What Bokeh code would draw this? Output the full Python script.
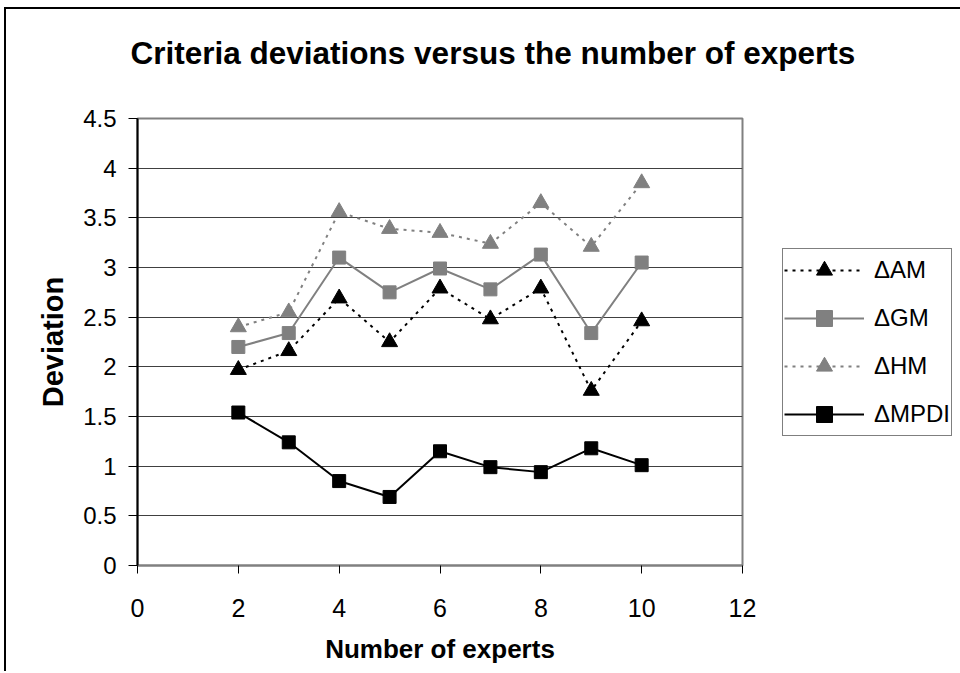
from bokeh.plotting import figure
from bokeh.models import Range1d, FixedTicker, Legend, LegendItem, Title
from bokeh.embed import file_html
from bokeh.resources import INLINE

experts = [2, 3, 4, 5, 6, 7, 8, 9, 10]
am = [1.97, 2.16, 2.69, 2.25, 2.79, 2.48, 2.79, 1.76, 2.46]
gm = [2.20, 2.34, 3.10, 2.75, 2.99, 2.78, 3.13, 2.34, 3.05]
hm = [2.40, 2.55, 3.56, 3.39, 3.35, 3.24, 3.65, 3.21, 3.85]
mpdi = [1.54, 1.24, 0.85, 0.69, 1.15, 0.99, 0.94, 1.18, 1.01]

x_ticks = [0, 2, 4, 6, 8, 10, 12]
y_ticks = [0, 0.5, 1, 1.5, 2, 2.5, 3, 3.5, 4, 4.5]
y_tick_labels = ["0", "0.5", "1", "1.5", "2", "2.5", "3", "3.5", "4", "4.5"]

FONT = "Liberation Sans"

p = figure(frame_width=605, frame_height=447, output_backend="svg", toolbar_location=None,
           title=None,
           x_range=Range1d(0, 12), y_range=Range1d(0, 4.5),
           min_border_left=131, min_border_right=216, min_border_top=109, min_border_bottom=106,
           styles={"border-left": "2px solid black", "border-top": "2px solid black",
                   "margin-left": "4px", "margin-top": "7px"})

# spacer between frame and title
p.add_layout(Title(text=" ", text_font_size="1px", standoff=45), "above")
p.add_layout(Title(text="Criteria deviations versus the number of experts", align="left",
                   offset=-7, standoff=0, text_font=FONT, text_font_size="31.5px",
                   text_font_style="bold", text_color="black"), "above")

p.outline_line_color = "#808080"
p.outline_line_width = 2
p.background_fill_color = "white"
p.border_fill_color = "white"

p.xgrid.visible = False
p.ygrid.ticker = FixedTicker(ticks=y_ticks)
p.ygrid.grid_line_color = "#404040"
p.ygrid.grid_line_width = 1

p.xaxis.ticker = FixedTicker(ticks=x_ticks)
p.yaxis.ticker = FixedTicker(ticks=y_ticks)
p.yaxis.major_label_overrides = {t: s for t, s in zip(y_ticks, y_tick_labels)}

for ax in (p.xaxis, p.yaxis):
    ax.major_label_text_font = FONT
    ax.major_label_text_color = "black"
    ax.axis_label_text_font = FONT
    ax.axis_label_text_font_style = "bold"
    ax.axis_label_text_color = "black"
    ax.minor_tick_line_color = None
    ax.major_tick_in = 0
    ax.major_tick_line_color = "black"

p.xaxis.major_label_text_font_size = "25px"
p.yaxis.major_label_text_font_size = "24px"
p.xaxis.axis_label_text_font_size = "26px"
p.yaxis.axis_label_text_font_size = "29px"

p.xaxis.axis_label = "Number of experts"
p.yaxis.axis_label = "Deviation"
p.xaxis.axis_line_color = "#808080"
p.xaxis.axis_line_width = 2
p.xaxis.major_tick_out = 8
p.xaxis.major_label_standoff = 25
p.xaxis.axis_label_standoff = 14
p.yaxis.axis_line_color = "black"
p.yaxis.axis_line_width = 2
p.yaxis.major_tick_out = 9
p.yaxis.major_label_standoff = 12
p.yaxis.axis_label_standoff = 11

r_am_l = p.line(experts, am, line_color="black", line_width=2, line_dash="3 5")
r_am_m = p.scatter(experts, am, marker="triangle", size=16, fill_color="black", line_color="black")
r_gm_l = p.line(experts, gm, line_color="#808080", line_width=2)
r_gm_m = p.scatter(experts, gm, marker="square", size=13, fill_color="#808080", line_color="#808080")
r_hm_l = p.line(experts, hm, line_color="#808080", line_width=2, line_dash="3 5")
r_hm_m = p.scatter(experts, hm, marker="triangle", size=16, fill_color="#808080", line_color="#808080")
r_mp_l = p.line(experts, mpdi, line_color="black", line_width=2)
r_mp_m = p.scatter(experts, mpdi, marker="square", size=13, fill_color="black", line_color="black")

legend = Legend(items=[
    LegendItem(label="\u0394AM", renderers=[r_am_l, r_am_m]),
    LegendItem(label="\u0394GM", renderers=[r_gm_l, r_gm_m]),
    LegendItem(label="\u0394HM", renderers=[r_hm_l, r_hm_m]),
    LegendItem(label="\u0394MPDI", renderers=[r_mp_l, r_mp_m]),
], location=(40, 129))
legend.label_text_font = FONT
legend.label_text_font_size = "24px"
legend.label_text_color = "black"
legend.glyph_width = 80
legend.glyph_height = 40
legend.label_height = 40
legend.spacing = 8
legend.padding = 1
legend.margin = 0
legend.label_standoff = 10
legend.border_line_color = "black"
legend.border_line_width = 1
legend.background_fill_alpha = 1
p.add_layout(legend, "right")

open("out.html", "w").write(file_html(p, INLINE))
